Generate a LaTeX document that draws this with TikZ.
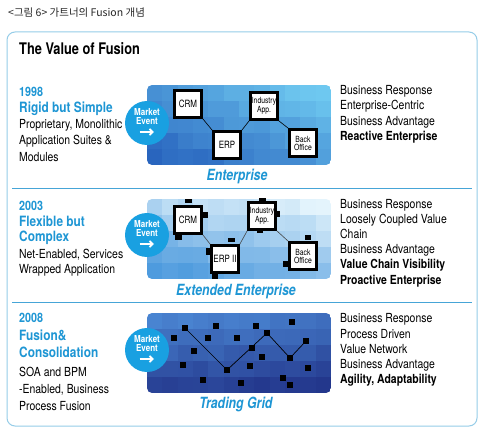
\documentclass[tikz,border=0pt]{standalone}
\usepackage{fontspec}
\setmainfont[FakeStretch=0.835]{TeX Gyre Heros}
\newfontfamily\condfont[FakeStretch=0.8]{TeX Gyre Heros}
\newfontfamily\kofont{Noto Sans CJK KR}
\usetikzlibrary{arrows.meta}
\definecolor{fblue}{RGB}{30,150,212}
\definecolor{frameblue}{RGB}{150,205,232}
\definecolor{sepblue}{RGB}{70,165,215}
\definecolor{circblue}{RGB}{25,160,225}
\definecolor{aLight}{RGB}{110,200,240}
\definecolor{aDark}{RGB}{40,100,190}
\definecolor{bLight}{RGB}{228,244,252}
\definecolor{bDark}{RGB}{70,150,220}
\definecolor{cLight}{RGB}{75,135,212}
\definecolor{cDark}{RGB}{35,55,140}
\definecolor{linegray}{RGB}{70,70,70}
\newcommand{\drawmosaic}[7]{%
  \begin{scope}
    \clip[rounded corners=5] (#1,#2) rectangle ++(184,80);
    \foreach \i in {0,...,11}{%
      \foreach \j in {0,...,4}{%
        \pgfmathtruncatemacro{\mixv}{max(0,min(100,100*(#7+#5*\i/11+#6*(4-\j)/4)+rand*7))}%
        \fill[#3!\mixv!#4] ({#1+\i*184/12},{#2+\j*16}) rectangle ++(15.6,16.3);
      }}
  \end{scope}}
\tikzset{
  txt/.style={anchor=base west, inner sep=0, font=\fontsize{12.5}{14}\selectfont},
  btxt/.style={txt, font=\fontsize{12.5}{14}\selectfont\bfseries},
  yeartxt/.style={anchor=base west, inner sep=0, text=fblue, font=\fontsize{12.9}{14}\selectfont\bfseries},
  headtxt/.style={anchor=base west, inner sep=0, text=fblue, font=\fontsize{14.2}{15}\selectfont\bfseries},
  lbl/.style={anchor=base, inner sep=0, text=fblue, font=\condfont\fontsize{15.4}{17}\selectfont\bfseries\itshape},
  appbox/.style={draw=black, line width=2.6pt, fill=white, minimum width=27, minimum height=27, inner sep=0, align=center, font=\condfont\fontsize{10}{10}\selectfont},
  smallbox/.style={appbox, font=\condfont\fontsize{8.5}{8}\selectfont},
  market/.style={circle, fill=circblue, minimum size=44, inner sep=0},
  mtxt/.style={anchor=base, inner sep=0, text=white, font=\fontsize{9.6}{9}\selectfont\bfseries},
  marrow/.style={white, line width=1.8pt, -{Straight Barb[length=3.2pt,width=6pt]}},
  conn/.style={draw=black, line width=0.6pt},
  conn2/.style={draw=linegray, line width=0.6pt},
  tab/.style={fill=black},
  gsq/.style={fill=black, minimum size=6, inner sep=0},
}
\begin{document}
\begin{tikzpicture}[x=1pt,y=-1pt]
\useasboundingbox (0,0) rectangle (488,433);
\fill[white] (0,0) rectangle (488,433);
\pgfmathsetseed{7}
% title
\node[anchor=base west, inner sep=0, text=black!85, font=\kofont\fontsize{10.5}{12}\selectfont] (title) at (8,17) {<그림 6> 가트너의 Fusion 개념};
% outer frame
\draw[frameblue, line width=1pt, rounded corners=8] (7,32) rectangle (477,426);
\node[anchor=base west, inner sep=0, font=\condfont\fontsize{16}{17}\selectfont\bfseries] (head) at (19,55) {The Value of Fusion};
% separators
\draw[sepblue, line width=0.8pt] (12,188) -- (472,188);
\draw[sepblue, line width=0.8pt] (12,302) -- (472,302);

% ---------- Section 1 ----------
\node[yeartxt] (y1) at (19,96.5) {1998};
\node[headtxt] (h1) at (19,112.5) {Rigid but Simple};
\node[txt] (l1a) at (19,129) {Proprietary, Monolithic};
\node[txt] (l1b) at (19,145) {Application Suites \&};
\node[txt] (l1c) at (19,162) {Modules};
\drawmosaic{147}{85}{aLight}{aDark}{0.55}{0.45}{0.0}
\node[appbox] (crm1) at (188,104) {CRM};
\node[appbox] (erp1) at (227,145) {ERP};
\node[smallbox] (ind1) at (264,106) {Industry\\App.};
\node[smallbox] (bo1) at (303,143) {Back\\Office};
\draw[conn] (crm1.south east) -- (erp1.north west);
\draw[conn] (erp1.north east) -- (ind1.south west);
\draw[conn] (ind1.south east) -- (bo1.north west);
\node[market] (m1) at (147,123) {};
\node[mtxt] (m1a) at (147,115.8) {Market};
\node[mtxt] (m1b) at (147,124.2) {Event};
\coordinate (m1s) at (139.5,132);
\coordinate (m1e) at (154,132);
\draw[marrow] (m1s) -- (m1e);
\node[lbl] (e1) at (237,181) {Enterprise};
\node[txt] (r1a) at (340,95) {Business Response};
\node[txt] (r1b) at (340,110) {Enterprise-Centric};
\node[txt] (r1c) at (340,126) {Business Advantage};
\node[btxt] (r1d) at (340,141) {Reactive Enterprise};

% ---------- Section 2 ----------
\node[yeartxt] (y2) at (19,211) {2003};
\node[headtxt] (h2a) at (19,227) {Flexible but};
\node[headtxt] (h2b) at (19,242) {Complex};
\node[txt] (l2a) at (19,259) {Net-Enabled, Services};
\node[txt] (l2b) at (19,274) {Wrapped Application};
\drawmosaic{147}{199}{bLight}{bDark}{0.35}{0.6}{0.05}
\node[appbox] (crm2) at (188,220) {CRM};
\node[appbox] (erp2) at (225,259) {ERP II};
\node[smallbox] (ind2) at (262,216) {Industry\\App.};
\node[smallbox] (bo2) at (303,256) {Back\\Office};
\draw[conn2] (crm2.south east) -- (erp2.north west);
\draw[conn2] (erp2.north east) -- (ind2.south west);
\draw[conn2] (ind2.south east) -- (bo2.north west);
\fill[tab] (185,199) rectangle (192,203);
\fill[tab] (203,212) rectangle (208,218);
\fill[tab] (175,235) rectangle (182,240);
\fill[tab] (228,238) rectangle (235,242);
\fill[tab] (206,248) rectangle (211,255);
\fill[tab] (212,274) rectangle (218,279);
\fill[tab] (259,198) rectangle (266,202);
\fill[tab] (275,211) rectangle (280,217);
\fill[tab] (257,229) rectangle (263,233);
\fill[tab] (305,235) rectangle (311,240);
\fill[tab] (283,261) rectangle (288,267);
\node[market] (m2) at (147,235) {};
\node[mtxt] (m2a) at (147,227.8) {Market};
\node[mtxt] (m2b) at (147,236.2) {Event};
\coordinate (m2s) at (139.5,244);
\coordinate (m2e) at (154,244);
\draw[marrow] (m2s) -- (m2e);
\node[lbl] (e2) at (236,295) {Extended Enterprise};
\node[txt] (r2a) at (340,209) {Business Response};
\node[txt] (r2b) at (340,224) {Loosely Coupled Value};
\node[txt] (r2c) at (340,238.5) {Chain};
\node[txt] (r2d) at (340,254) {Business Advantage};
\node[btxt] (r2e) at (340,269) {Value Chain Visibility};
\node[btxt] (r2f) at (340,284) {Proactive Enterprise};

% ---------- Section 3 ----------
\node[yeartxt] (y3) at (19,323) {2008};
\node[headtxt] (h3a) at (19,340) {Fusion\&};
\node[headtxt] (h3b) at (19,357) {Consolidation};
\node[txt] (l3a) at (19,376) {SOA and BPM};
\node[txt] (l3b) at (19,393) {-Enabled, Business};
\node[txt] (l3c) at (19,410) {Process Fusion};
\drawmosaic{147}{313}{cLight}{cDark}{-0.2}{0.75}{0.2}
\node[gsq] (g1) at (185,328) {};
\node[gsq] (g2) at (216,326) {};
\node[gsq] (g3) at (256,326) {};
\node[gsq] (g4) at (292,322) {};
\node[gsq] (g5) at (174,338) {};
\node[gsq] (g6) at (208,338) {};
\node[gsq] (g7) at (237,338) {};
\node[gsq] (g8) at (267,333) {};
\node[gsq] (g9) at (306,341) {};
\node[gsq] (g10) at (194,351) {};
\node[gsq] (g11) at (252,348) {};
\node[gsq] (g12) at (262,357) {};
\node[gsq] (g13) at (290,358) {};
\node[gsq] (g14) at (183,365) {};
\node[gsq] (g15) at (227,370) {};
\node[gsq] (g16) at (250,366) {};
\node[gsq] (g17) at (308,368) {};
\node[gsq] (g18) at (203,380) {};
\node[gsq] (g19) at (241,383) {};
\node[gsq] (g20) at (283,378) {};
\node[gsq] (g21) at (290,385) {};
\draw[black, line width=0.7pt] (g1.center) -- (g15.center) -- (g8.center) -- (g13.center) -- (g9.center);
\node[market] (m3) at (147,350) {};
\node[mtxt] (m3a) at (147,342.8) {Market};
\node[mtxt] (m3b) at (147,351.2) {Event};
\coordinate (m3s) at (139.5,359);
\coordinate (m3e) at (154,359);
\draw[marrow] (m3s) -- (m3e);
\node[lbl] (e3) at (236,408) {Trading Grid};
\node[txt] (r3a) at (340,323) {Business Response};
\node[txt] (r3b) at (340,338) {Process Driven};
\node[txt] (r3c) at (340,353) {Value Network};
\node[txt] (r3d) at (340,368) {Business Advantage};
\node[btxt] (r3e) at (340,383) {Agility, Adaptability};
\end{tikzpicture}
\end{document}
